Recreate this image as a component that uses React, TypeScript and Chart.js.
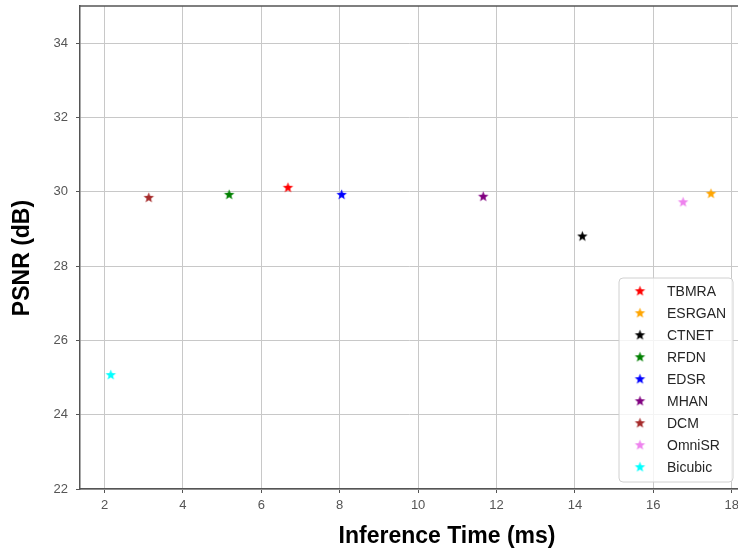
import { useEffect, useRef } from 'react';
import { Chart, registerables } from 'chart.js';

Chart.register(...registerables);

const methods = ['TBMRA', 'ESRGAN', 'CTNET', 'RFDN', 'EDSR', 'MHAN', 'DCM', 'OmniSR', 'Bicubic'];
const inferenceTimes = [6.68, 17.47, 14.19, 5.18, 8.05, 11.66, 3.13, 16.76, 2.16];
const psnrValues = [30.12, 29.96, 28.81, 29.93, 29.93, 29.88, 29.85, 29.73, 25.08];
const colors = ['#ff0000', '#ffa500', '#000000', '#008000', '#0000ff', '#800080', '#a52a2a', '#ee82ee', '#00ffff'];
const xTicks = [2, 4, 6, 8, 10, 12, 14, 16, 18];
const yTicks = [22, 24, 26, 28, 30, 32, 34];
const xTitle = 'Inference Time (ms)';
const yTitle = 'PSNR (dB)';

const FONT = "'Liberation Sans', Arial, sans-serif";
const SPINE = '#555555';

function makeStar(color: string, r: number): HTMLCanvasElement {
  const size = Math.ceil(r * 2 + 2);
  const c = document.createElement('canvas');
  c.width = size;
  c.height = size;
  const ctx = c.getContext('2d')!;
  const cx = size / 2;
  const cy = size / 2 + r * 0.08;
  const inner = r * 0.42;
  ctx.beginPath();
  for (let i = 0; i < 10; i++) {
    const rad = i % 2 === 0 ? r : inner;
    const a = -Math.PI / 2 + (i * Math.PI) / 5;
    const px = cx + rad * Math.cos(a);
    const py = cy + rad * Math.sin(a);
    if (i === 0) ctx.moveTo(px, py);
    else ctx.lineTo(px, py);
  }
  ctx.closePath();
  ctx.fillStyle = color;
  ctx.fill();
  return c;
}

function zeroPadding(s: any) {
  s.paddingTop = 0;
  s.paddingBottom = 0;
  s.paddingLeft = 0;
  s.paddingRight = 0;
}

export default function App() {
  const ref = useRef<HTMLCanvasElement>(null);

  useEffect(() => {
    document.body.style.margin = '0';
    const stars = colors.map((c) => makeStar(c, 5.5));

    const decorations = {
      id: 'decorations',
      afterDraw(chart: any) {
        const { ctx, chartArea } = chart;
        ctx.save();
        // top spine
        ctx.strokeStyle = SPINE;
        ctx.lineWidth = 1.5;
        ctx.beginPath();
        ctx.moveTo(chartArea.left, chartArea.top);
        ctx.lineTo(chartArea.right, chartArea.top);
        ctx.stroke();

        // axis titles
        ctx.fillStyle = '#000';
        ctx.font = `bold 23px ${FONT}`;
        ctx.textAlign = 'center';
        ctx.textBaseline = 'middle';
        ctx.fillText(xTitle, 447, 537);
        ctx.save();
        ctx.translate(23, 258);
        ctx.rotate(-Math.PI / 2);
        ctx.fillText(yTitle, 0, 0);
        ctx.restore();

        // legend
        const lx = 619, ly = 278, lw = 114, lh = 204, rr = 4;
        ctx.beginPath();
        ctx.moveTo(lx + rr, ly);
        ctx.lineTo(lx + lw - rr, ly);
        ctx.quadraticCurveTo(lx + lw, ly, lx + lw, ly + rr);
        ctx.lineTo(lx + lw, ly + lh - rr);
        ctx.quadraticCurveTo(lx + lw, ly + lh, lx + lw - rr, ly + lh);
        ctx.lineTo(lx + rr, ly + lh);
        ctx.quadraticCurveTo(lx, ly + lh, lx, ly + lh - rr);
        ctx.lineTo(lx, ly + rr);
        ctx.quadraticCurveTo(lx, ly, lx + rr, ly);
        ctx.closePath();
        ctx.fillStyle = 'rgba(255,255,255,0.8)';
        ctx.fill();
        ctx.strokeStyle = '#d0d0d0';
        ctx.lineWidth = 1;
        ctx.stroke();

        ctx.font = `14px ${FONT}`;
        ctx.textAlign = 'left';
        ctx.textBaseline = 'middle';
        chart.data.datasets.forEach((ds: any, i: number) => {
          const cy = 290.7 + i * 22;
          const img = stars[i];
          ctx.drawImage(img, 640 - img.width / 2, cy - img.height / 2);
          ctx.fillStyle = '#262626';
          ctx.fillText(ds.label, 667, cy + 1);
        });
        ctx.restore();
      },
    };

    const chart = new Chart(ref.current!, {
      type: 'scatter',
      data: {
        datasets: methods.map((m, i) => ({
          label: m,
          data: [{ x: inferenceTimes[i], y: psnrValues[i] }],
          backgroundColor: colors[i],
          borderColor: colors[i],
          pointStyle: stars[i] as any,
          pointRadius: 5.5,
        })),
      },
      options: {
        animation: false,
        responsive: false,
        layout: { padding: { top: 6, left: 0, right: 0, bottom: 0 }, autoPadding: false } as any,
        plugins: { legend: { display: false }, tooltip: { enabled: false } },
        scales: {
          x: {
            type: 'linear',
            min: 1.375,
            max: 18.16,
            afterBuildTicks: (s: any) => {
              s.ticks = xTicks.map((v) => ({ value: v }));
            },
            afterFit: (s: any) => {
              s.height = 63;
              zeroPadding(s);
            },
            grid: { color: '#c8c8c8', lineWidth: 1, tickColor: SPINE, tickLength: 4 },
            border: { color: SPINE, width: 1.5 },
            ticks: {
              font: { family: FONT, size: 13 },
              color: '#555',
              padding: 5,
              maxRotation: 0,
              autoSkip: false,
            },
          },
          y: {
            type: 'linear',
            min: 22,
            max: 35,
            afterBuildTicks: (s: any) => {
              s.ticks = yTicks.map((v) => ({ value: v }));
            },
            afterFit: (s: any) => {
              s.width = 80;
              zeroPadding(s);
            },
            grid: { color: '#c8c8c8', lineWidth: 1, tickColor: SPINE, tickLength: 4 },
            border: { color: SPINE, width: 1.5 },
            ticks: {
              font: { family: FONT, size: 13 },
              color: '#555',
              padding: 8,
              autoSkip: false,
            },
          },
        },
      },
      plugins: [decorations],
    });
    return () => chart.destroy();
  }, []);

  return <canvas ref={ref} width={738} height={552} style={{ display: 'block' }} />;
}
